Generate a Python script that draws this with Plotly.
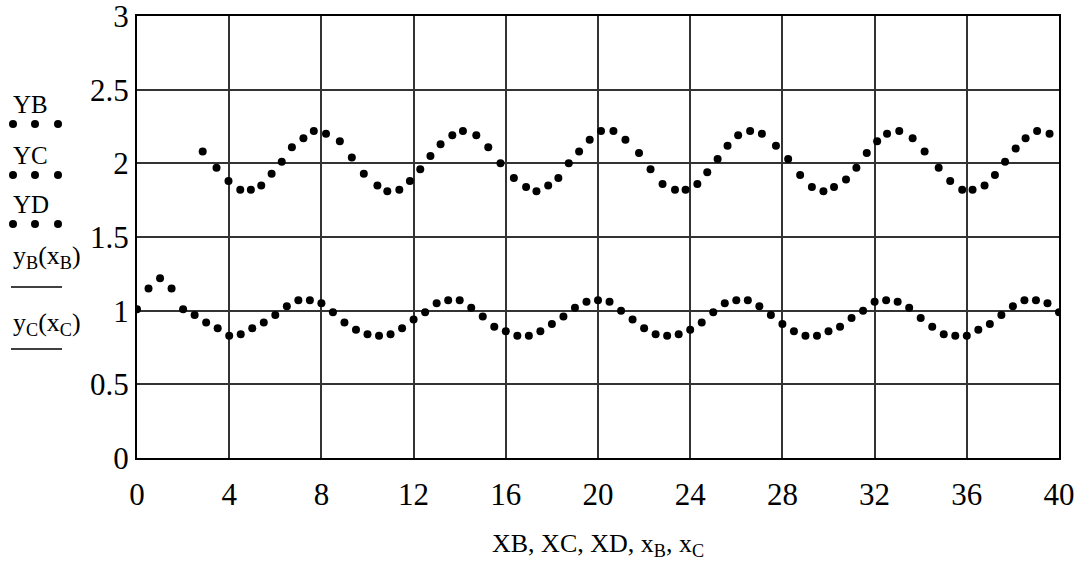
import plotly.graph_objects as go

# Lower trace: sampled every 0.5 along the horizontal axis
xb = [0, 0.5, 1, 1.5, 2, 2.5, 3, 3.5, 4, 4.5, 5, 5.5, 6, 6.5, 7, 7.5, 8, 8.5, 9, 9.5,
      10, 10.5, 11, 11.5, 12, 12.5, 13, 13.5, 14, 14.5, 15, 15.5, 16, 16.5, 17, 17.5,
      18, 18.5, 19, 19.5, 20, 20.5, 21, 21.5, 22, 22.5, 23, 23.5, 24, 24.5, 25, 25.5,
      26, 26.5, 27, 27.5, 28, 28.5, 29, 29.5, 30, 30.5, 31, 31.5, 32, 32.5, 33, 33.5,
      34, 34.5, 35, 35.5, 36, 36.5, 37, 37.5, 38, 38.5, 39, 39.5, 40]
yb = [1.01, 1.15, 1.22, 1.15, 1.01, 0.97, 0.92, 0.88, 0.83, 0.84, 0.88, 0.92, 0.97,
      1.03, 1.07, 1.07, 1.05, 0.99, 0.92, 0.87, 0.84, 0.83, 0.84, 0.88, 0.94, 0.99,
      1.05, 1.07, 1.07, 1.02, 0.96, 0.89, 0.86, 0.83, 0.83, 0.86, 0.91, 0.96, 1.02,
      1.06, 1.07, 1.06, 1.00, 0.94, 0.88, 0.84, 0.83, 0.84, 0.87, 0.92, 0.99, 1.05,
      1.07, 1.07, 1.03, 0.97, 0.91, 0.86, 0.83, 0.83, 0.86, 0.89, 0.95, 1.00, 1.06,
      1.07, 1.06, 1.02, 0.95, 0.89, 0.84, 0.83, 0.83, 0.87, 0.91, 0.97, 1.03, 1.07,
      1.07, 1.05, 0.99]

# Upper trace
xc = [2.85, 3.45, 3.97, 4.48, 4.94, 5.39, 5.84, 6.28, 6.72, 7.22, 7.67, 8.20, 8.80,
      9.32, 9.84, 10.43, 10.86, 11.38, 11.84, 12.29, 12.73, 13.17, 13.68, 14.14, 14.72,
      15.24, 15.77, 16.35, 16.88, 17.33, 17.84, 18.28, 18.73, 19.18, 19.64, 20.13,
      20.67, 21.19, 21.78, 22.28, 22.80, 23.34, 23.80, 24.31, 24.74, 25.19, 25.62,
      26.08, 26.60, 27.11, 27.72, 28.25, 28.77, 29.28, 29.78, 30.24, 30.76, 31.21,
      31.66, 32.11, 32.54, 33.07, 33.65, 34.17, 34.78, 35.28, 35.80, 36.25, 36.77,
      37.22, 37.66, 38.12, 38.55, 39.05, 39.59]
yc = [2.08, 1.97, 1.88, 1.82, 1.82, 1.85, 1.93, 2.01, 2.11, 2.17, 2.22, 2.20, 2.15,
      2.04, 1.93, 1.85, 1.81, 1.82, 1.88, 1.96, 2.05, 2.13, 2.19, 2.22, 2.19, 2.11,
      2.00, 1.90, 1.84, 1.81, 1.85, 1.90, 2.00, 2.08, 2.16, 2.22, 2.22, 2.16, 2.07,
      1.96, 1.86, 1.82, 1.82, 1.86, 1.94, 2.03, 2.12, 2.19, 2.22, 2.20, 2.12, 2.03,
      1.92, 1.84, 1.81, 1.84, 1.89, 1.97, 2.07, 2.15, 2.20, 2.22, 2.17, 2.08, 1.97,
      1.88, 1.82, 1.82, 1.85, 1.92, 2.01, 2.10, 2.17, 2.22, 2.20]

x_ticks = [0, 4, 8, 12, 16, 20, 24, 28, 32, 36, 40]
y_ticks = [0, 0.5, 1, 1.5, 2, 2.5, 3]
y_tick_text = ["0", "0.5", "1", "1.5", "2", "2.5", "3"]

legend_labels = ["YB", "YC", "YD",
                 "y<sub>B</sub>(x<sub>B</sub>)", "y<sub>C</sub>(x<sub>C</sub>)"]

W, H = 1086, 566
ML, MR, MT, MB = 137, 27, 16, 108
PW, PH = W - ML - MR, H - MT - MB
FONT = "Liberation Serif, Times New Roman, serif"


def px(xp):
    return (xp - ML) / PW


def py(yp):
    return (H - MB - yp) / PH


fig = go.Figure()
fig.add_trace(go.Scatter(x=xb, y=yb, mode="markers", name="YB",
                         marker=dict(color="black", size=8, line=dict(width=0))))
fig.add_trace(go.Scatter(x=xc, y=yc, mode="markers", name="YC",
                         marker=dict(color="black", size=8, line=dict(width=0))))

annotations = []
shapes = []

# left-hand key: dotted entries then solid-line entries
key_text_y = [105, 155, 204, 257, 324]
key_size = [25, 25, 25, 26, 26]
for i, lab in enumerate(legend_labels):
    annotations.append(dict(text=lab, x=px(11), y=py(key_text_y[i]), xref="paper",
                            yref="paper", xanchor="left", yanchor="middle",
                            showarrow=False,
                            font=dict(family=FONT, size=key_size[i], color="black")))

for row_y in [124, 175, 224]:
    for dx in [13, 35, 58]:
        shapes.append(dict(type="circle", xref="paper", yref="paper",
                           xsizemode="pixel", ysizemode="pixel",
                           xanchor=px(dx), yanchor=py(row_y),
                           x0=-4, x1=4, y0=-4, y1=4,
                           fillcolor="black", line=dict(width=0)))

for row_y in [287, 349]:
    shapes.append(dict(type="line", xref="paper", yref="paper",
                       x0=px(11), x1=px(62), y0=py(row_y), y1=py(row_y),
                       line=dict(color="black", width=1.5)))

annotations.append(dict(text="XB, XC, XD, x<sub>B</sub>, x<sub>C</sub>",
                        x=0.5, y=py(545), xref="paper", yref="paper",
                        xanchor="center", yanchor="middle", showarrow=False,
                        font=dict(family=FONT, size=26, color="black")))

axis_common = dict(showgrid=True, gridcolor="#333333", gridwidth=1.5,
                   showline=True, linecolor="black", linewidth=2, mirror=True,
                   zeroline=False, ticks="", ticklabeloverflow="allow",
                   automargin=False,
                   tickfont=dict(family=FONT, size=31, color="black"))

fig.update_layout(
    width=W, height=H,
    margin=dict(l=ML, r=MR, t=MT, b=MB, pad=0, autoexpand=False),
    paper_bgcolor="white", plot_bgcolor="white",
    showlegend=False,
    xaxis=dict(range=[0, 40], tickvals=x_ticks, ticklabelstandoff=8, **axis_common),
    yaxis=dict(range=[0, 3], tickvals=y_ticks, ticktext=y_tick_text,
               ticklabelstandoff=0, **axis_common),
    annotations=annotations,
    shapes=shapes,
)

fig.write_html("out.html")
